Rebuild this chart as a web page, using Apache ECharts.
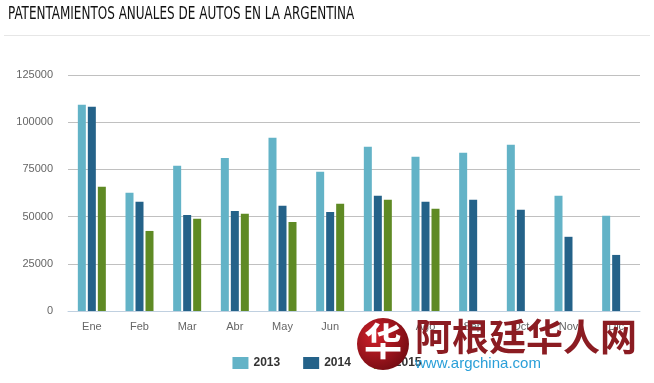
<!DOCTYPE html>
<html>
<head>
<meta charset="utf-8">
<script src="https://cdn.jsdelivr.net/npm/echarts@6/dist/echarts.min.js"></script>
<style>
html,body{margin:0;padding:0;background:#fff;}
#c{width:654px;height:383px;}
</style>
</head>
<body>
<div id="c"></div>
<script>
const titleText = 'PATENTAMIENTOS ANUALES DE AUTOS EN LA ARGENTINA';
const categories = ['Ene','Feb','Mar','Abr','May','Jun','Jul','Ago','Sep','Oct','Nov','Dic'];
const s2013 = [109300, 62600, 76900, 81000, 91800, 73700, 87000, 81700, 83800, 88000, 61000, 50400];
const s2014 = [108200, 57800, 50900, 53000, 55700, 52500, 61000, 57800, 58900, 53600, 39300, 29700];
const s2015 = [65800, 42400, 48800, 51500, 47200, 56800, 58900, 54100, null, null, null, null];
const yTicks = [0, 25000, 50000, 75000, 100000, 125000];

const chart = echarts.init(document.getElementById('c'));
const barCommon = { type: 'bar', barWidth: 8, barGap: '25%' };
chart.setOption({
  animation: false,
  backgroundColor: '#fff',
  legend: {
    bottom: 9, left: 'center',
    itemWidth: 16, itemHeight: 12, itemGap: 23,
    icon: 'rect',
    textStyle: { fontFamily: "'Liberation Sans',Arial,sans-serif", fontSize: 12, fontWeight: 'bold', color: '#333' },
    data: ['2013','2014','2015']
  },
  grid: { left: 68, right: 14, top: 75, bottom: 72 },
  xAxis: {
    type: 'category', data: categories,
    axisLine: { lineStyle: { color: '#c0d0e0' } },
    axisTick: { lineStyle: { color: '#c0d0e0' }, length: 9 },
    axisLabel: { color: '#666', fontSize: 11, margin: 10, fontFamily: "'Liberation Sans',Arial,sans-serif" }
  },
  yAxis: {
    type: 'value', min: yTicks[0], max: yTicks[yTicks.length-1], interval: yTicks[1]-yTicks[0],
    axisLine: { show: false }, axisTick: { show: false },
    splitLine: { lineStyle: { color: '#c0c0c0' } },
    axisLabel: { color: '#666', fontSize: 11, margin: 15, fontFamily: "'Liberation Sans',Arial,sans-serif",
      formatter: function (v) { return String(v); } }
  },
  series: [
    Object.assign({ name: '2013', data: s2013, itemStyle: { color: '#63b3c7' } }, barCommon),
    Object.assign({ name: '2014', data: s2014, itemStyle: { color: '#246289' } }, barCommon),
    Object.assign({ name: '2015', data: s2015, itemStyle: { color: '#5f8a24' } }, barCommon)
  ],
  graphic: [
    { type: 'text', x: 8, y: 6, scaleX: 0.785, style: { text: titleText, fontSize: 17, fill: '#111',
      fontFamily: "'DejaVu Sans Condensed','DejaVu Sans',sans-serif" } },
    { type: 'line', shape: { x1: 4, y1: 35.5, x2: 650, y2: 35.5 }, style: { stroke: '#e6e6e6', lineWidth: 1 } },
    { type: 'circle', z: 100, shape: { cx: 383, cy: 344, r: 26 },
      style: { fill: new echarts.graphic.RadialGradient(0.35, 0.35, 0.8, [{offset:0,color:'#d0202a'},{offset:1,color:'#6a0a10'}]) } },
    { type: 'text', z: 101, left: 364, top: 322, style: { text: '华', fontSize: 38, fontWeight: 'bold', fill: '#fff', fontFamily: "'Noto Sans CJK SC',sans-serif" } },
    { type: 'text', z: 101, left: 415, top: 318, style: { text: '阿根廷华人网', fontSize: 37, fontWeight: 'bold', fill: '#8b1c22', fontFamily: "'Noto Sans CJK SC',sans-serif" } },
    { type: 'text', z: 101, left: 415, top: 356, style: { text: 'www.argchina.com', fontSize: 15, fill: '#2a9fd8', fontFamily: "'Liberation Sans',Arial,sans-serif" } }
  ]
});
</script>
</body>
</html>
